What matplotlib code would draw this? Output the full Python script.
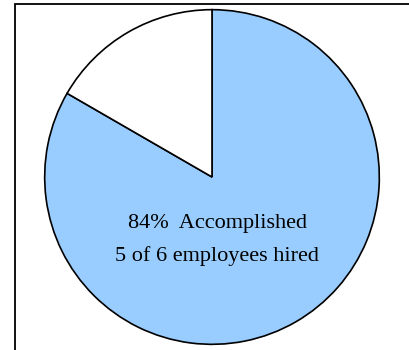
import matplotlib.pyplot as plt
from matplotlib.patches import Rectangle

values = [5, 1]
colors = ['#99CCFF', '#FFFFFF']
label_lines = ['84%  Accomplished', '5 of 6 employees hired']

fig = plt.figure(figsize=(4.1, 3.5), dpi=100)

# outer frame (only top and left visible inside the image)
fig.patches.append(Rectangle((15 / 410, -0.1), 1.2, (350 - 4) / 350 + 0.1,
                             transform=fig.transFigure, fill=False,
                             edgecolor='black', linewidth=1.3))

ax = fig.add_axes([(212 - 169) / 410, (350 - 177 - 169) / 350, 338 / 410, 338 / 350])
ax.pie(values, colors=colors, startangle=90, counterclock=False, radius=1,
       wedgeprops=dict(edgecolor='black', linewidth=1.2))
ax.set_xlim(-1.01, 1.01)
ax.set_ylim(-1.01, 1.01)
ax.set_aspect('equal')
ax.axis('off')

ax.text(0.03, -0.275, label_lines[0], ha='center', va='center',
        family='Liberation Serif', fontsize=16)
ax.text(0.03, -0.475, label_lines[1], ha='center', va='center',
        family='Liberation Serif', fontsize=16)

fig.savefig('out.png', dpi=100)
